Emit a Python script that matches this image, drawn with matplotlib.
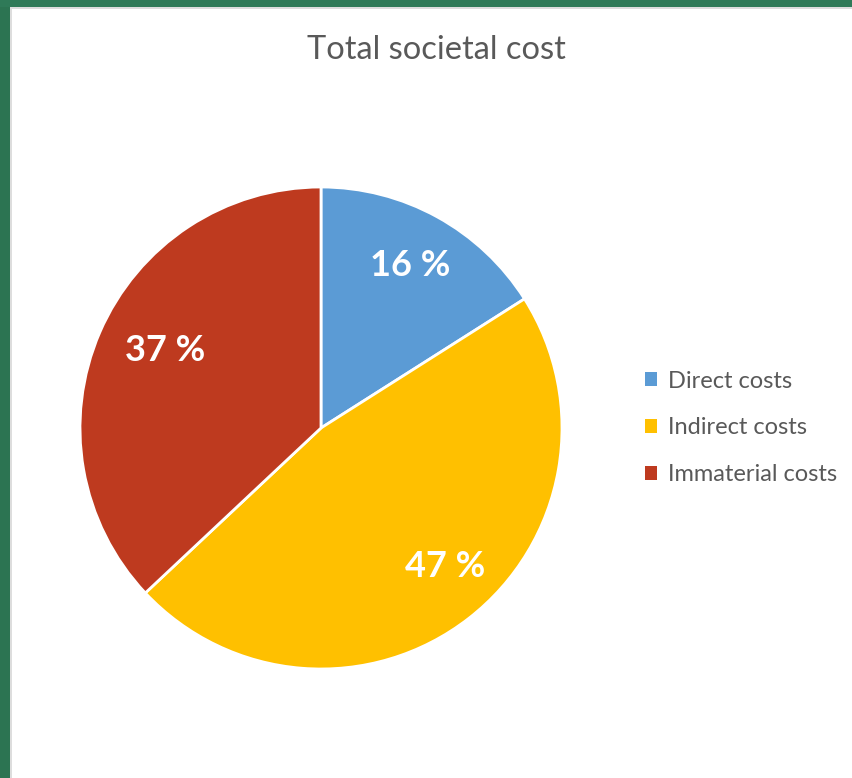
import numpy as np
import matplotlib.pyplot as plt
from matplotlib.patches import Rectangle

categories = ["Direct costs", "Indirect costs", "Immaterial costs"]
shares = [16, 47, 37]
colors = ["#5B9BD5", "#FFC000", "#BE3A1F"]

# label placement inside each wedge: radius fraction, angular nudge (deg)
label_dist = [0.77, 0.77, 0.72]
label_nudge = [0, 4, -3]

W, H = 853, 778
fig = plt.figure(figsize=(W / 100, H / 100), dpi=100)
fig.patch.set_facecolor("white")

# window frame (green) and thin grey inner edge
fig.patches.append(Rectangle((0, 0), 10 / W, 1, transform=fig.transFigure,
                             facecolor="#2C7452", edgecolor="none"))
fig.patches.append(Rectangle((0, 1 - 7 / H), 1, 7 / H, transform=fig.transFigure,
                             facecolor="#2F7A58", edgecolor="none"))
fig.patches.append(Rectangle((10 / W, 0), 2 / W, 1 - 7 / H, transform=fig.transFigure,
                             facecolor="#DDDDDD", edgecolor="none"))
fig.patches.append(Rectangle((10 / W, 1 - 9 / H), 1, 2 / H, transform=fig.transFigure,
                             facecolor="#DDDDDD", edgecolor="none"))

cx, cy, r = 321, 778 - 428, 241
ax = fig.add_axes([(cx - r) / W, (cy - r) / H, 2 * r / W, 2 * r / H])
wedges, texts = ax.pie(
    shares, colors=colors, startangle=90, counterclock=False,
    wedgeprops=dict(edgecolor="white", linewidth=2),
)
for w, d, n, v in zip(wedges, label_dist, label_nudge, shares):
    ang = np.deg2rad((w.theta1 + w.theta2) / 2 + n)
    ax.text(d * np.cos(ang), d * np.sin(ang), f"{v} %", ha="center", va="center",
            color="white", fontsize=26, fontweight="bold", family="Lato")
ax.set_xlim(-1, 1)
ax.set_ylim(-1, 1)
ax.set_aspect("auto")

fig.text(436 / W, 1 - 50 / H, "Total societal cost", ha="center", va="center",
         fontsize=23.5, color="#595959", family="Lato")

leg = fig.legend(wedges, categories, loc="center left",
                 bbox_to_anchor=(624 / W, 1 - 428 / H), frameon=False,
                 prop=dict(family="Lato", size=17), labelcolor="#595959",
                 handlelength=0.5, handleheight=0.5, handletextpad=0.45,
                 labelspacing=1.1)
for h in leg.legend_handles:
    h.set_edgecolor("none")

fig.savefig("out.png", dpi=100)
